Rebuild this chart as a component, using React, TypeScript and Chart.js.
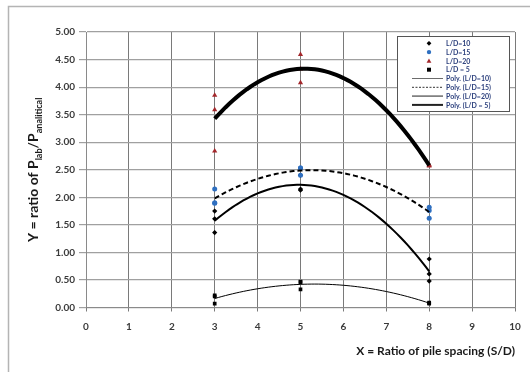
import React, { useEffect, useRef } from "react";
import { Chart, registerables } from "chart.js";

Chart.register(...registerables);

// ---- data ----
const xTickLabels = ["0", "1", "2", "3", "4", "5", "6", "7", "8", "9", "10"];
const yTickLabels = ["0.00", "0.50", "1.00", "1.50", "2.00", "2.50", "3.00", "3.50", "4.00", "4.50", "5.00"];

const spacingX = [3, 3, 3, 5, 5, 5, 8, 8, 8];
const ld10 = [1.75, 1.61, 1.36, 2.13, 2.15, 2.4, 0.88, 0.61, 0.48];
const ld15 = [2.15, 1.89, 1.9, 2.53, 2.4, 2.53, 1.82, 1.76, 1.62];
const ld20 = [3.85, 3.59, 2.84, 4.59, 4.08, 4.33, 2.58, 2.57, 2.59];
const ld5 = [0.2, 0.07, 0.22, 0.47, 0.33, 0.46, 0.07, 0.09, 0.08];

const seriesNames = ["L/D=10", "L/D=15", "L/D=20", "L/D = 5"];
const trendNames = ["Poly. (L/D=10)", "Poly. (L/D=15)", "Poly. (L/D=20)", "Poly. (L/D = 5)"];

// least-squares quadratic trendline (Excel "Poly." order 2)
function polyFit2(xs: number[], ys: number[]) {
  let s0 = 0, s1 = 0, s2 = 0, s3 = 0, s4 = 0, t0 = 0, t1 = 0, t2 = 0;
  xs.forEach((x, i) => {
    const y = ys[i];
    s0 += 1; s1 += x; s2 += x * x; s3 += x * x * x; s4 += x * x * x * x;
    t0 += y; t1 += x * y; t2 += x * x * y;
  });
  const m = [
    [s4, s3, s2, t2],
    [s3, s2, s1, t1],
    [s2, s1, s0, t0],
  ];
  for (let i = 0; i < 3; i++) {
    for (let k = i + 1; k < 3; k++) {
      const f = m[k][i] / m[i][i];
      for (let j = i; j < 4; j++) m[k][j] -= f * m[i][j];
    }
  }
  const c = [0, 0, 0];
  for (let i = 2; i >= 0; i--) {
    let s = m[i][3];
    for (let j = i + 1; j < 3; j++) s -= m[i][j] * c[j];
    c[i] = s / m[i][i];
  }
  return (x: number) => c[0] * x * x + c[1] * x + c[2];
}

function trend(ys: number[]) {
  const f = polyFit2(spacingX, ys);
  const lo = Math.min(...spacingX);
  const hi = Math.max(...spacingX);
  const pts: { x: number; y: number }[] = [];
  const n = 60;
  for (let i = 0; i <= n; i++) {
    const x = lo + ((hi - lo) * i) / n;
    pts.push({ x, y: f(x) });
  }
  return pts;
}

const pts = (ys: number[]) => ys.map((y, i) => ({ x: spacingX[i], y }));

const FONT = "Lato, 'Open Sans', sans-serif";
const LEGEND_TEXT = "#2b3f7c";

const legendItems = [
  { label: seriesNames[0], kind: "marker", shape: "diamond", color: "#000000" },
  { label: seriesNames[1], kind: "marker", shape: "circle", color: "#2e6fc0" },
  { label: seriesNames[2], kind: "marker", shape: "triangle", color: "#a3272b" },
  { label: seriesNames[3], kind: "marker", shape: "square", color: "#000000" },
  { label: trendNames[0], kind: "line", width: 1, color: "#6b6b6b", dash: [] as number[] },
  { label: trendNames[1], kind: "line", width: 1, color: "#333333", dash: [2, 1.5] },
  { label: trendNames[2], kind: "line", width: 1.5, color: "#6b6b6b", dash: [] as number[] },
  { label: trendNames[3], kind: "line", width: 2, color: "#222222", dash: [] as number[] },
];

const framePlugin = {
  id: "frame",
  beforeDraw(chart: any) {
    const ctx = chart.ctx;
    ctx.save();
    ctx.fillStyle = "#ffffff";
    ctx.fillRect(0, 0, chart.width, chart.height);
    ctx.strokeStyle = "#b4b4b4";
    ctx.lineWidth = 1.5;
    ctx.strokeRect(8.5, 6.5, chart.width + 20, chart.height + 20);
    ctx.restore();
  },
};

const titlesPlugin = {
  id: "titles",
  afterDraw(chart: any) {
    const ctx = chart.ctx;
    const a = chart.chartArea;
    ctx.save();
    // Y title with subscripts
    const parts = [
      { t: "Y = ratio of P", sub: false },
      { t: "lab", sub: true },
      { t: "/P", sub: false },
      { t: "analitical", sub: true },
    ];
    const big = `bold 14px ${FONT}`;
    const small = `bold 9px ${FONT}`;
    let total = 0;
    parts.forEach((p) => {
      ctx.font = p.sub ? small : big;
      total += ctx.measureText(p.t).width;
    });
    ctx.translate(33, (a.top + a.bottom) / 2);
    ctx.rotate(-Math.PI / 2);
    ctx.fillStyle = "#1a1a1a";
    ctx.textBaseline = "alphabetic";
    ctx.textAlign = "left";
    let x = -total / 2;
    parts.forEach((p) => {
      ctx.font = p.sub ? small : big;
      ctx.fillText(p.t, x, p.sub ? 9 : 5);
      x += ctx.measureText(p.t).width;
    });
    ctx.restore();

    ctx.save();
    ctx.font = `bold 12px ${FONT}`;
    ctx.fillStyle = "#1a1a1a";
    ctx.textAlign = "right";
    ctx.textBaseline = "middle";
    ctx.fillText("X = Ratio of pile spacing (S/D)", a.right, a.bottom + 44);
    ctx.restore();
  },
};

const legendPlugin = {
  id: "boxLegend",
  afterDatasetsDraw(chart: any) {
    const ctx = chart.ctx;
    const a = chart.chartArea;
    const w = 112;
    const h = 75;
    const left = a.right - 118;
    const top = a.top + 4;
    ctx.save();
    ctx.fillStyle = "#ffffff";
    ctx.fillRect(left, top, w, h);
    ctx.strokeStyle = "#555555";
    ctx.lineWidth = 1;
    ctx.strokeRect(left + 0.5, top + 0.5, w, h);
    const rowH = 8.8;
    const y0 = top + 7.3;
    const mx = left + 32;
    legendItems.forEach((it: any, i: number) => {
      const y = y0 + i * rowH;
      if (it.kind === "marker") {
        ctx.fillStyle = it.color;
        ctx.beginPath();
        const r = 2.4;
        if (it.shape === "diamond") {
          ctx.moveTo(mx, y - r); ctx.lineTo(mx + r, y); ctx.lineTo(mx, y + r); ctx.lineTo(mx - r, y);
        } else if (it.shape === "circle") {
          ctx.arc(mx, y, r - 0.2, 0, Math.PI * 2);
        } else if (it.shape === "triangle") {
          ctx.moveTo(mx, y - r); ctx.lineTo(mx + r, y + r * 0.8); ctx.lineTo(mx - r, y + r * 0.8);
        } else {
          ctx.rect(mx - 2, y - 2, 4, 4);
        }
        ctx.closePath();
        ctx.fill();
      } else {
        ctx.strokeStyle = it.color;
        ctx.lineWidth = it.width;
        ctx.setLineDash(it.dash);
        ctx.beginPath();
        ctx.moveTo(left + 15, y);
        ctx.lineTo(left + 46, y);
        ctx.stroke();
        ctx.setLineDash([]);
      }
      ctx.fillStyle = LEGEND_TEXT;
      ctx.font = `bold 7px ${FONT}`;
      ctx.textAlign = "left";
      ctx.textBaseline = "middle";
      ctx.fillText(it.label, left + 49, y + 0.5);
    });
    ctx.restore();
  },
};

export default function App() {
  const ref = useRef<HTMLCanvasElement | null>(null);

  useEffect(() => {
    if (!ref.current) return;
    const chart = new Chart(ref.current, {
      type: "scatter",
      data: {
        datasets: [
          {
            label: trendNames[2],
            data: trend(ld20),
            showLine: true,
            borderColor: "#000000",
            borderWidth: 4,
            pointRadius: 0,
            order: 0,
          },
          {
            label: trendNames[1],
            data: trend(ld15),
            showLine: true,
            borderColor: "#000000",
            borderWidth: 2,
            borderDash: [5, 3],
            pointRadius: 0,
            order: 1,
          },
          {
            label: trendNames[0],
            data: trend(ld10),
            showLine: true,
            borderColor: "#000000",
            borderWidth: 2,
            pointRadius: 0,
            order: 2,
          },
          {
            label: trendNames[3],
            data: trend(ld5),
            showLine: true,
            borderColor: "#000000",
            borderWidth: 1,
            pointRadius: 0,
            order: 3,
          },
          {
            label: seriesNames[3],
            data: pts(ld5),
            pointStyle: "rect",
            pointRadius: 2.6,
            backgroundColor: "#000000",
            borderColor: "#000000",
            borderWidth: 0,
            order: 4,
          },
          {
            label: seriesNames[2],
            data: pts(ld20),
            pointStyle: "triangle",
            pointRadius: 3,
            backgroundColor: "#a3272b",
            borderColor: "#a3272b",
            borderWidth: 0,
            order: 5,
          },
          {
            label: seriesNames[1],
            data: pts(ld15),
            pointStyle: "circle",
            pointRadius: 2.5,
            backgroundColor: "#2e6fc0",
            borderColor: "#2e6fc0",
            borderWidth: 0,
            order: 6,
          },
          {
            label: seriesNames[0],
            data: pts(ld10),
            pointStyle: "rectRot",
            pointRadius: 2.6,
            backgroundColor: "#000000",
            borderColor: "#000000",
            borderWidth: 0,
            order: 7,
          },
        ],
      },
      options: {
        responsive: false,
        animation: false,
        layout: { padding: { left: 0, right: 15, top: 32, bottom: 0 } },
        plugins: {
          legend: { display: false },
          tooltip: { enabled: false },
          title: { display: false },
        },
        scales: {
          x: {
            type: "linear",
            min: 0,
            max: 10,
            afterFit: (s: any) => {
              s.height = 64.5;
            },
            ticks: {
              stepSize: 1,
              padding: 9,
              color: "#3a3a3a",
              font: { family: FONT, size: 10, weight: "bold" },
              callback: (v: any) => xTickLabels[Math.round(Number(v))] ?? "",
            },
            grid: { color: "#7a7a7a", lineWidth: 1, tickLength: 4 },
            border: { color: "#8a8a8a" },
          },
          y: {
            type: "linear",
            min: 0,
            max: 5,
            afterFit: (s: any) => {
              s.width = 86;
            },
            ticks: {
              stepSize: 0.5,
              padding: 4,
              color: "#3a3a3a",
              font: { family: FONT, size: 10, weight: "bold" },
              callback: (v: any) => yTickLabels[Math.round(Number(v) * 2)] ?? "",
            },
            grid: { color: "#a0a0a0", lineWidth: 1.2, tickLength: 7 },
            border: { color: "#8a8a8a" },
          },
        },
      },
      plugins: [framePlugin, legendPlugin, titlesPlugin],
    });
    return () => chart.destroy();
  }, []);

  return (
    <div style={{ position: "fixed", left: 0, top: 0, width: 530, height: 372, background: "#fff" }}>
      <canvas ref={ref} width={530} height={372} />
    </div>
  );
}
